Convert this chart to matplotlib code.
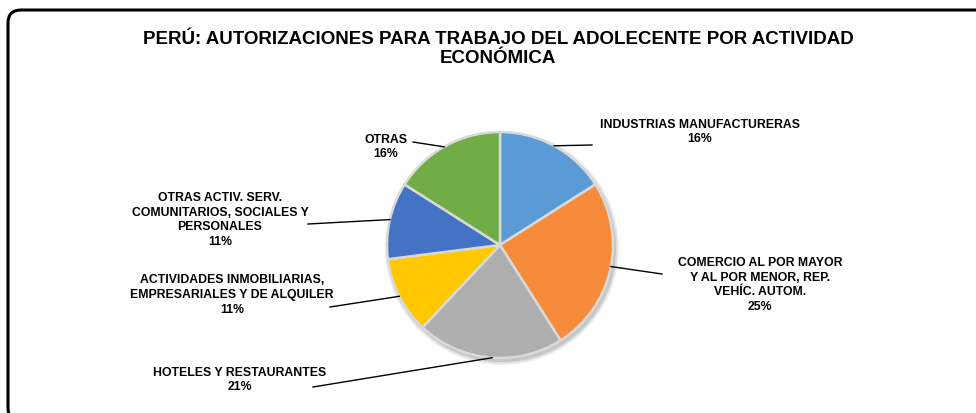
import matplotlib.pyplot as plt
import numpy as np
from matplotlib.patches import FancyBboxPatch, Circle

# Data (percentages)
categories = ["INDUSTRIAS MANUFACTURERAS",
              "COMERCIO AL POR MAYOR\nY AL POR MENOR, REP.\nVEHÍC. AUTOM.",
              "HOTELES Y RESTAURANTES",
              "ACTIVIDADES INMOBILIARIAS,\nEMPRESARIALES Y DE ALQUILER",
              "OTRAS ACTIV. SERV.\nCOMUNITARIOS, SOCIALES Y\nPERSONALES",
              "OTRAS"]
shares = [16, 25, 21, 11, 11, 16]
colors = ["#5B9BD5", "#F68B3B", "#AEAEAE", "#FFC800", "#4472C4", "#70AD47"]

title = "PERÚ: AUTORIZACIONES PARA TRABAJO DEL ADOLECENTE POR ACTIVIDAD\nECONÓMICA"

# Layout (pixel coordinates, y measured upward from the bottom)
W, H = 976, 414
cx, cy, r = 500, 168, 113
label_xy = [(700, 282), (760, 129), (240, 34), (232, 119), (220, 194), (386, 267)]
line_end = [(592, 268), (662, 139), (313, 26), (330, 106), (308, 189), (413, 271)]
touch_deg = [61.4, -11, -94, 207, 167, 119.7]   # where each leader meets the rim

plt.rcParams['font.family'] = ['Liberation Sans', 'DejaVu Sans']

fig = plt.figure(figsize=(W / 100, H / 100), dpi=100)
ax = fig.add_axes([0, 0, 1, 1])

# Outer rounded frame
frame = FancyBboxPatch((8, -8), 990, 411, boxstyle="round,pad=0,rounding_size=13",
                       facecolor="white", edgecolor="black", linewidth=2.2, zorder=0)
ax.add_patch(frame)

# Soft shadow behind the pie
for k, a in enumerate([0.06, 0.08, 0.10]):
    ax.add_patch(Circle((cx + 2, cy - 3), r + 4 - k * 1.5, color="black", alpha=a, lw=0, zorder=1))

wedges, _ = ax.pie(shares, colors=colors, startangle=90, counterclock=False,
                   center=(cx, cy), radius=r, frame=True,
                   wedgeprops=dict(edgecolor="#D9D9D9", linewidth=1.8))
for w in wedges:
    w.set_zorder(2)

# Inner darker ring to mimic the bevel
ax.pie(shares, colors=["none"] * len(shares), startangle=90, counterclock=False,
       center=(cx, cy), radius=r - 4, frame=True,
       wedgeprops=dict(edgecolor=(0, 0, 0, 0.12), linewidth=2.5, fill=False))
ax.set_xlim(0, W)
ax.set_ylim(0, H)
ax.axis('off')

# Labels with leader lines
for i in range(len(shares)):
    ang = np.deg2rad(touch_deg[i])
    px, py = cx + r * np.cos(ang), cy + r * np.sin(ang)
    ex, ey = line_end[i]
    ax.plot([px, ex], [py, ey], color="black", lw=1, zorder=3)
    ax.text(label_xy[i][0], label_xy[i][1], f"{categories[i]}\n{shares[i]}%",
            ha="center", va="center", fontsize=8.8, fontweight="bold",
            linespacing=1.3, zorder=4)

ax.text(498, 365, title, ha="center", va="center", fontsize=13.5,
        fontweight="bold", linespacing=1.12)

fig.savefig("out.png", dpi=100)
